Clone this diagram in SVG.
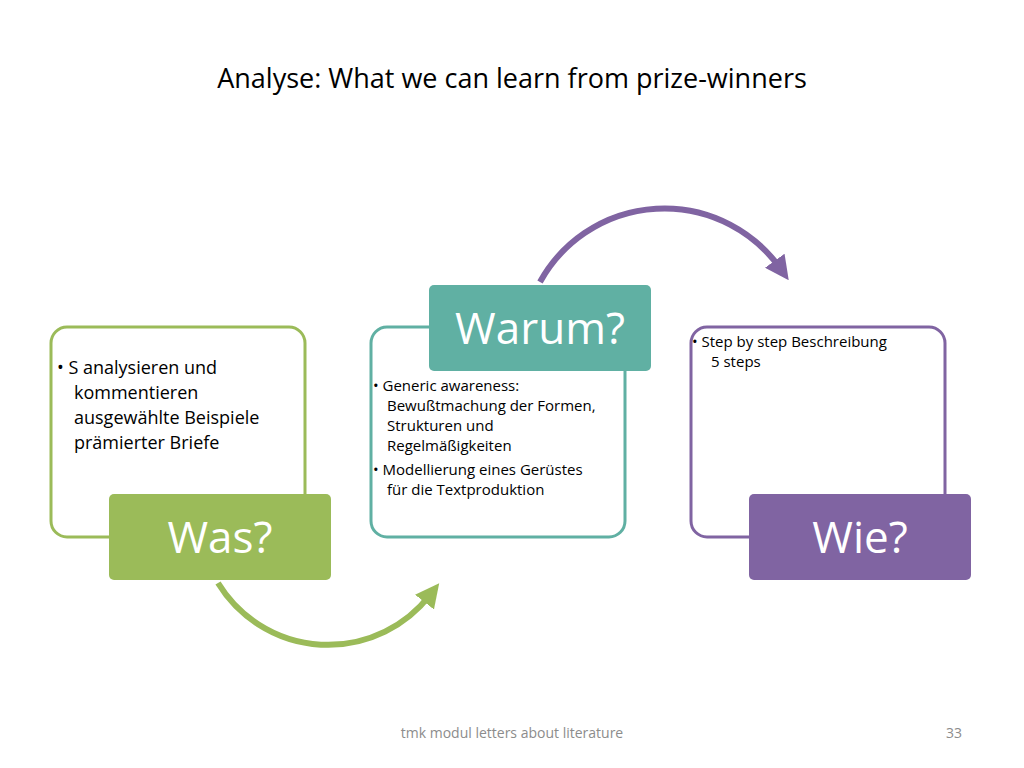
<svg xmlns="http://www.w3.org/2000/svg" width="1024" height="768" viewBox="0 0 1024 768">
<style>
text{font-family:"Open Sans","Liberation Sans",sans-serif}
.big{fill:#fff;font-size:44px;text-anchor:middle}
.t1{font-size:18px;fill:#000}
.t2{font-size:15px;fill:#000}
</style>
<defs>
<marker id="ag" markerWidth="4" markerHeight="4" refX="1.5" refY="2" orient="auto" markerUnits="strokeWidth"><path d="M0,0 L4,2 L0,4 z" fill="#9bbb59"/></marker>
<marker id="ap" markerWidth="4" markerHeight="4" refX="1.5" refY="2" orient="auto" markerUnits="strokeWidth"><path d="M0,0 L4,2 L0,4 z" fill="#8064a2"/></marker>
</defs>
<rect width="1024" height="768" fill="#fff"/>
<text x="512" y="88" text-anchor="middle" font-size="27" fill="#000">Analyse: What we can learn from prize-winners</text>
<g id="connectors" fill="none" stroke-width="6">
<path d="M218 583 A129 129 0 0 0 430 595" stroke="#9bbb59" marker-end="url(#ag)"/>
<path d="M540 282 A142 142 0 0 1 780 268" stroke="#8064a2" marker-end="url(#ap)"/>
</g>
<g id="was">
<rect x="51" y="327" width="254" height="210" rx="16" fill="#fff" stroke="#9bbb59" stroke-width="3"/>
<text class="t1" x="57" y="374">• S analysieren und</text>
<text class="t1" x="74" y="399">kommentieren</text>
<text class="t1" x="74" y="424">ausgewählte Beispiele</text>
<text class="t1" x="74" y="449">prämierter Briefe</text>
<rect x="109" y="494" width="222" height="86" rx="5" fill="#9bbb59"/>
<text class="big" x="220" y="553">Was?</text>
</g>
<g id="warum">
<rect x="371" y="327" width="254" height="210" rx="16" fill="#fff" stroke="#60b0a3" stroke-width="3"/>
<text class="t2" x="373" y="391">• Generic awareness:</text>
<text class="t2" x="387" y="411">Bewußtmachung der Formen,</text>
<text class="t2" x="387" y="431">Strukturen und</text>
<text class="t2" x="387" y="451">Regelmäßigkeiten</text>
<text class="t2" x="373" y="475">• Modellierung eines Gerüstes</text>
<text class="t2" x="387" y="495">für die Textproduktion</text>
<rect x="429" y="285" width="222" height="86" rx="5" fill="#60b0a3"/>
<text class="big" x="540" y="344">Warum?</text>
</g>
<g id="wie">
<rect x="691" y="327" width="254" height="210" rx="16" fill="#fff" stroke="#8064a2" stroke-width="3"/>
<text class="t2" x="692" y="347">• Step by step Beschreibung</text>
<text class="t2" x="711" y="367">5 steps</text>
<rect x="749" y="494" width="222" height="86" rx="5" fill="#8064a2"/>
<text class="big" x="860" y="553">Wie?</text>
</g>
<text x="512" y="738" text-anchor="middle" font-size="14" fill="#8c8c8c">tmk modul letters about literature</text>
<text x="954" y="738" text-anchor="middle" font-size="14" fill="#8c8c8c">33</text>
</svg>
